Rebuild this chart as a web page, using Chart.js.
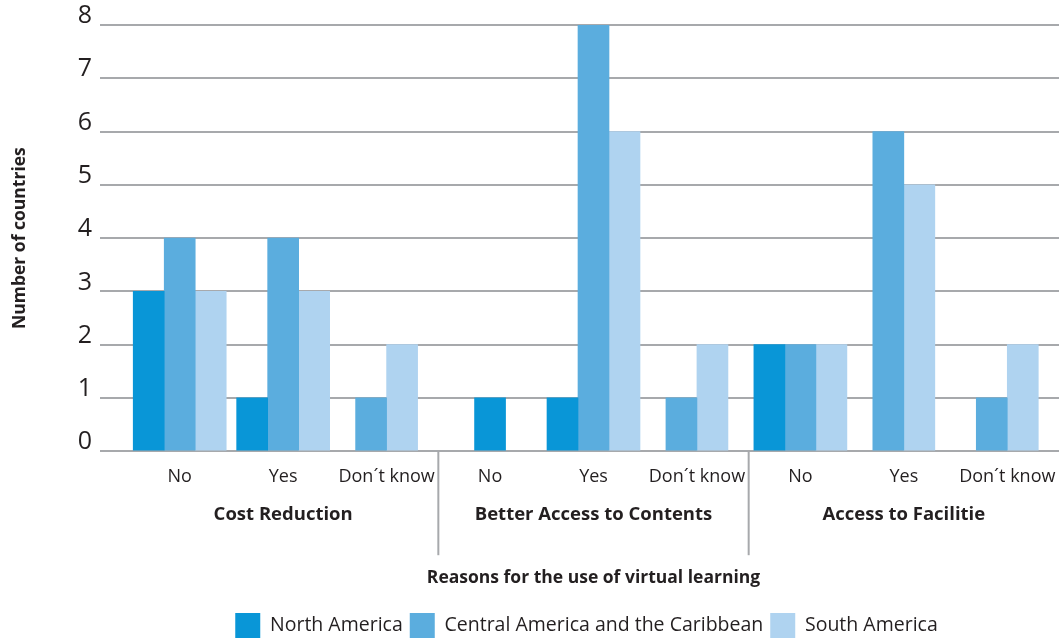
<!DOCTYPE html>
<html>
<head>
<meta charset="utf-8">
<script src="https://cdn.jsdelivr.net/npm/chart.js@4.4.1/dist/chart.umd.min.js"></script>
<style>
  html, body { margin: 0; padding: 0; background: #fff; }
  #wrap { width: 1059px; height: 638px; position: relative; }
</style>
</head>
<body>
<div id="wrap"><canvas id="chart"></canvas></div>
<script>
// Data
const answers = ['No', 'Yes', 'Don\u00b4t know', 'No', 'Yes', 'Don\u00b4t know', 'No', 'Yes', 'Don\u00b4t know'];
const groups = ['Cost Reduction', 'Better Access to Contents', 'Access to Facilitie'];
const yTicks = [0, 1, 2, 3, 4, 5, 6, 7, 8];

// null = no bar drawn in that slot
const northAmerica = [3, 1, null, 1, 1, null, 2, null, null];
const centralAmerica = [4, 4, 1, null, 8, 1, 2, 6, 1];
const southAmerica = [3, 3, 2, null, 6, 2, 2, 5, 2];

const seriesNames = ['North America', 'Central America and the Caribbean', 'South America'];
const seriesColors = ['#0996d7', '#5badde', '#afd3f0'];

const gridColor = '#a7a9ac';
const textColor = '#231f20';

Chart.defaults.font.family = "'Open Sans', Lato, sans-serif";
Chart.defaults.color = textColor;

// vertical separators between the three groups
const groupSeparators = {
    id: 'groupSeparators',
    afterLayout(chart) {
        // legend sits a bit right of the page centre
        chart.legend.left += 55;
        chart.legend.right += 55;
    },
    afterDraw(chart) {
        const x = chart.scales.x;
        const ctx = chart.ctx;
        const per = answers.length / groups.length;
        ctx.save();
        ctx.strokeStyle = gridColor;
        ctx.lineWidth = 2;
        for (let g = 1; g < groups.length; g++) {
            const px = (x.getPixelForValue(g * per - 1) + x.getPixelForValue(g * per)) / 2;
            ctx.beginPath();
            ctx.moveTo(px, chart.chartArea.bottom);
            ctx.lineTo(px, chart.chartArea.bottom + 104);
            ctx.stroke();
        }
        ctx.restore();
    }
};

const noSidePadding = (scale) => { scale.paddingRight = 0; scale.paddingLeft = 0; };

const ctx = document.getElementById('chart').getContext('2d');
const chart = new Chart(ctx, {
    type: 'bar',
    data: {
        labels: answers,
        datasets: [northAmerica, centralAmerica, southAmerica].map((d, i) => ({
            label: seriesNames[i],
            data: d,
            backgroundColor: seriesColors[i],
            borderWidth: 0,
            barThickness: 31,
            skipNull: true
        }))
    },
    options: {
        responsive: true,
        maintainAspectRatio: false,
        animation: false,
        layout: { padding: { top: 25, right: 0, left: 4, bottom: -10 } },
        plugins: {
            legend: {
                position: 'bottom',
                labels: {
                    boxWidth: 25,
                    boxHeight: 25,
                    padding: 7,
                    font: { size: 19.5 },
                    color: textColor
                }
            },
            tooltip: { enabled: false }
        },
        scales: {
            x: {
                type: 'category',
                position: 'bottom',
                afterFit: noSidePadding,
                grid: { display: false, drawTicks: false },
                border: { display: false },
                ticks: { font: { size: 18 }, padding: 15, maxRotation: 0, autoSkip: false }
            },
            x2: {
                type: 'category',
                position: 'bottom',
                labels: groups,
                afterFit: noSidePadding,
                grid: { display: false, drawTicks: false },
                border: { display: false },
                ticks: { font: { size: 18.5, weight: 'bold' }, padding: 1, maxRotation: 0 },
                title: {
                    display: true,
                    text: 'Reasons for the use of virtual learning',
                    font: { size: 17.5, weight: 'bold' },
                    padding: { top: 41, bottom: 17 }
                }
            },
            y: {
                min: 0,
                max: 8,
                z: 1,
                afterBuildTicks: (scale) => { scale.ticks = yTicks.map(v => ({ value: v })); },
                afterFit: (scale) => { scale.width = 124; },
                grid: { color: gridColor, lineWidth: 2, tickLength: 28, tickColor: gridColor },
                border: { display: false },
                ticks: { font: { size: 25 }, padding: 8, labelOffset: -9 },
                title: {
                    display: true,
                    text: 'Number of countries',
                    font: { size: 17.5, weight: 'bold' },
                    padding: { top: 6, bottom: 0 }
                }
            }
        }
    },
    plugins: [groupSeparators]
});
</script>
</body>
</html>
